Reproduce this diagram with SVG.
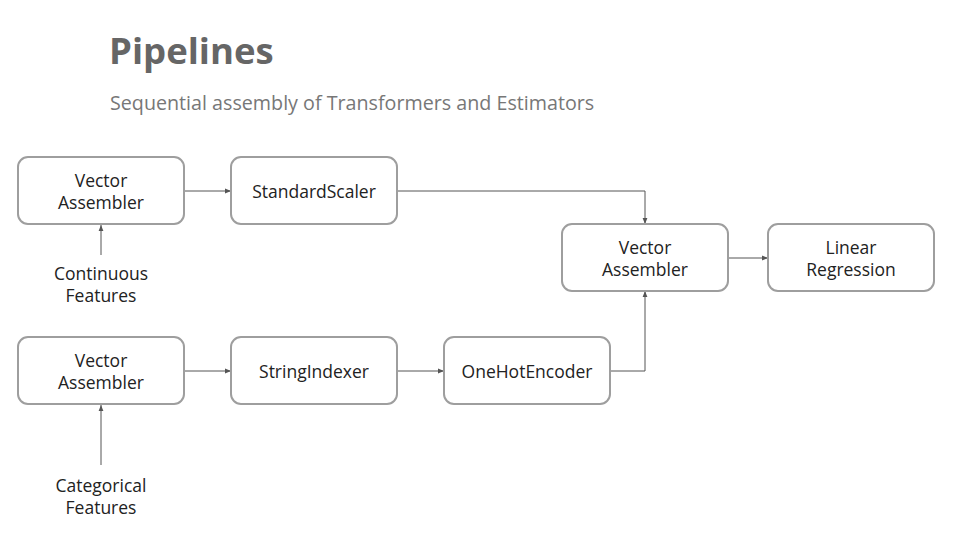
<svg xmlns="http://www.w3.org/2000/svg" width="960" height="540" viewBox="0 0 960 540">
<defs>
<style>
.box{fill:#fff;stroke:#9e9e9e;stroke-width:2}
.t{font-family:"Open Sans","Liberation Sans",sans-serif;font-size:17.5px;fill:#222;text-anchor:middle}
.c{fill:none;stroke:#555;stroke-width:1}
</style>
<marker id="a" viewBox="0 0 10 10" refX="10" refY="5" markerWidth="6" markerHeight="6" markerUnits="userSpaceOnUse" orient="auto"><path d="M0,1L10,5L0,9z" fill="#555"/></marker>
</defs>
<rect width="960" height="540" fill="#fff"/>
<text x="109" y="64" font-family="'Open Sans','Liberation Sans',sans-serif" font-size="36.5" font-weight="bold" fill="#666">Pipelines</text>
<text x="110" y="110" font-family="'Open Sans','Liberation Sans',sans-serif" font-size="19.7" fill="#777">Sequential assembly of Transformers and Estimators</text>
<g id="connectors">
<path class="c" marker-end="url(#a)" d="M184,191H231"/>
<path class="c" marker-end="url(#a)" d="M101,255V225"/>
<path class="c" marker-end="url(#a)" d="M397,191H645V224"/>
<path class="c" marker-end="url(#a)" d="M728,258H768"/>
<path class="c" marker-end="url(#a)" d="M184,371H231"/>
<path class="c" marker-end="url(#a)" d="M397,371H444"/>
<path class="c" marker-end="url(#a)" d="M610,371H645V291"/>
<path class="c" marker-end="url(#a)" d="M101,465V405"/>
</g>
<g id="va1"><rect class="box" x="18" y="157" width="166" height="67" rx="10"/><text class="t" x="101" y="187">Vector</text><text class="t" x="101" y="209">Assembler</text></g>
<g id="ss"><rect class="box" x="231" y="157" width="166" height="67" rx="10"/><text class="t" x="314" y="198">StandardScaler</text></g>
<g id="cont"><text class="t" x="101" y="280">Continuous</text><text class="t" x="101" y="302">Features</text></g>
<g id="va3"><rect class="box" x="562" y="224" width="166" height="67" rx="10"/><text class="t" x="645" y="254">Vector</text><text class="t" x="645" y="276">Assembler</text></g>
<g id="lr"><rect class="box" x="768" y="224" width="166" height="67" rx="10"/><text class="t" x="851" y="254">Linear</text><text class="t" x="851" y="276">Regression</text></g>
<g id="va2"><rect class="box" x="18" y="337" width="166" height="67" rx="10"/><text class="t" x="101" y="367">Vector</text><text class="t" x="101" y="389">Assembler</text></g>
<g id="si"><rect class="box" x="231" y="337" width="166" height="67" rx="10"/><text class="t" x="314" y="378">StringIndexer</text></g>
<g id="ohe"><rect class="box" x="444" y="337" width="166" height="67" rx="10"/><text class="t" x="527" y="378">OneHotEncoder</text></g>
<g id="cat"><text class="t" x="101" y="492">Categorical</text><text class="t" x="101" y="514">Features</text></g>
</svg>
